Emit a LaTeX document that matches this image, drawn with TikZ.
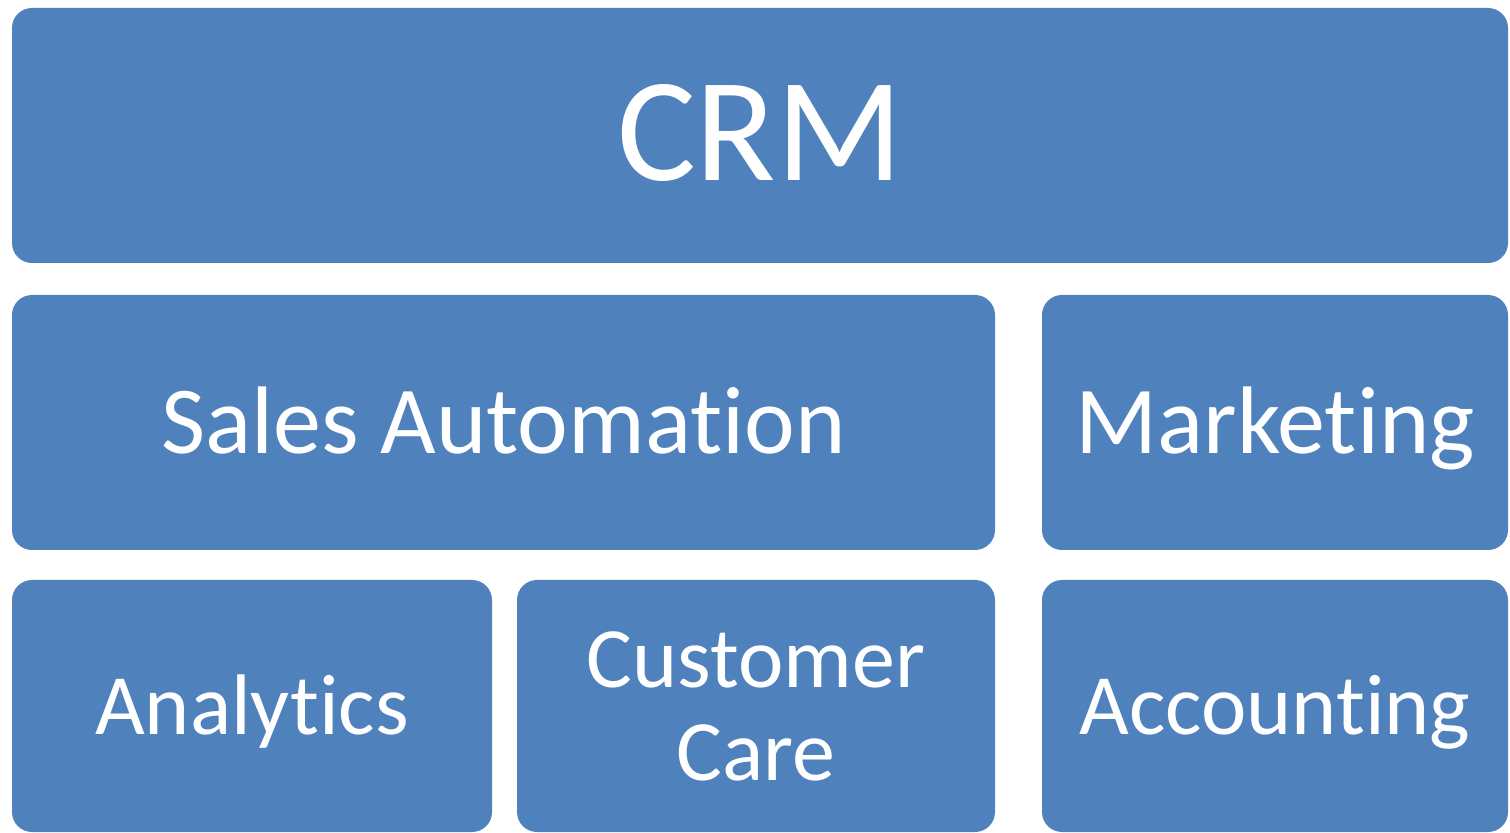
\documentclass[tikz,border=0pt]{standalone}
\usepackage{fontspec}
\setmainfont{Carlito}[Ligatures={NoCommon}]
\definecolor{boxblue}{RGB}{79,129,189}
\begin{document}
\begin{tikzpicture}[x=0.5pt,y=-0.5pt,
  blockbox/.style={fill=boxblue, draw=none, rounded corners=10pt, inner sep=0pt,
    text=white, align=center},
  bigtext/.style={font=\fontsize{48}{48}\selectfont, text height=44pt, text depth=13pt},
  smalltext/.style={font=\fontsize{43}{46.5}\selectfont, text height=39.5pt, text depth=11pt}]
\useasboundingbox[fill=white] (0,0) rectangle (1510,833);
\node[blockbox, minimum width=748pt, minimum height=127.5pt,
  font=\fontsize{74}{74}\selectfont, text height=66pt, text depth=21pt] (crm) at (760,135.5) {CRM};
\node[blockbox, bigtext, minimum width=491.5pt, minimum height=127.5pt] (sales) at (503.5,422.5) {Sales Automation};
\node[blockbox, bigtext, minimum width=233pt, minimum height=127.5pt] (mkt) at (1275,422.5) {Marketing};
\node[blockbox, smalltext, minimum width=240pt, minimum height=126pt] (ana) at (252,706) {Analytics};
\node[blockbox, minimum width=239pt, minimum height=126pt,
  font=\fontsize{43}{46.5}\selectfont] (care) at (756,706) {Customer\\Care};
\node[blockbox, smalltext, minimum width=233pt, minimum height=126pt] (acc) at (1275,706) {Accounting};
\end{tikzpicture}
\end{document}
